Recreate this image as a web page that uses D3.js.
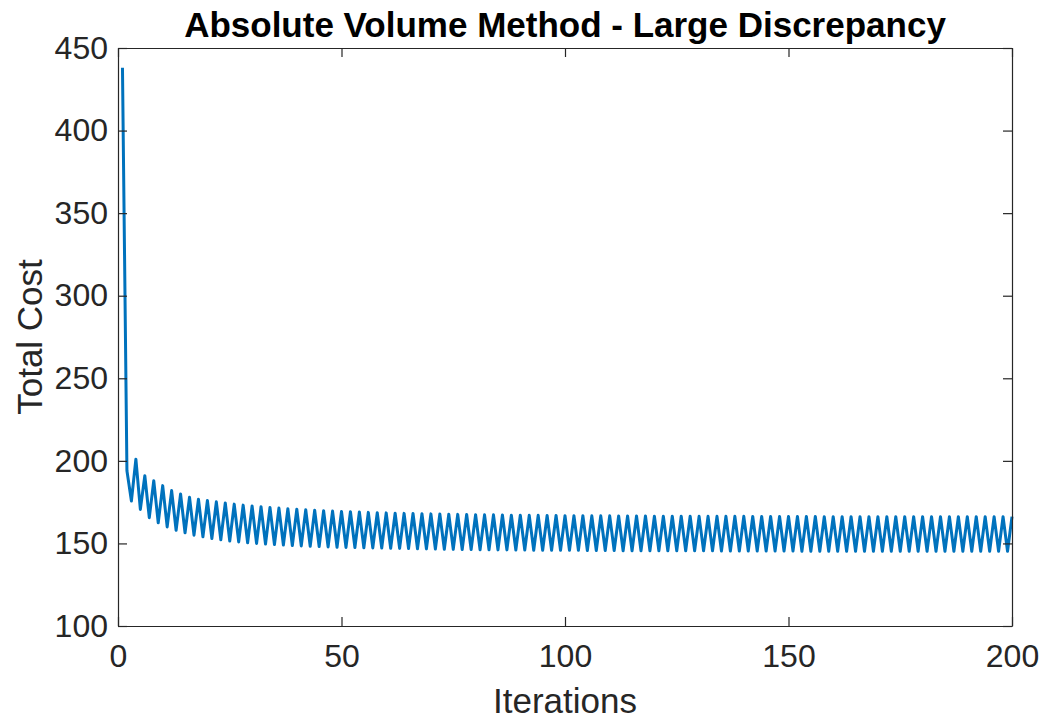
<!DOCTYPE html>
<html>
<head>
<meta charset="utf-8">
<script src="https://cdn.jsdelivr.net/npm/d3@7"></script>
<style>
  body { margin: 0; background: #fff; }
  text { font-family: "Liberation Sans", Arial, sans-serif; }
</style>
</head>
<body>
<div id="chart"></div>
<script>
  // data
  var titleText = "Absolute Volume Method - Large Discrepancy";
  var xLabel = "Iterations";
  var yLabel = "Total Cost";
  var xTicks = [0, 50, 100, 150, 200];
  var yTicks = [100, 150, 200, 250, 300, 350, 400, 450];

  // total cost per iteration (1..200)
  var totalCost = [
      438, 194, 175.7, 201, 170.6, 191, 165.6, 188, 162.5, 185,
      160, 182, 158, 180, 156.4, 178, 155, 176.8, 154, 176,
      153, 175.2, 152.2, 174.5, 151.5, 173.8, 150.9, 173.2, 150.4, 172.7,
      150, 172.2, 149.6, 171.8, 149.3, 171.4, 149, 171, 148.7, 170.7,
      148.5, 170.4, 148.3, 170.1, 148.1, 169.8, 147.9, 169.6, 147.7, 169.4,
      147.6, 169.2, 147.5, 169, 147.4, 168.8, 147.3, 168.6, 147.2, 168.5,
      147.1, 168.3, 147, 168.2, 146.9, 168.1, 146.8, 168, 146.7, 167.9,
      146.6, 167.8, 146.5, 167.7, 146.4, 167.6, 146.3, 167.5, 146.3, 167.4,
      146.2, 167.3, 146.2, 167.3, 146.1, 167.2, 146.1, 167.1, 146, 167.1,
      146, 167, 145.9, 167, 145.9, 166.9, 145.9, 166.9, 145.8, 166.8,
      145.8, 166.8, 145.8, 166.8, 145.7, 166.7, 145.7, 166.7, 145.7, 166.7,
      145.7, 166.6, 145.6, 166.6, 145.6, 166.6, 145.6, 166.6, 145.6, 166.5,
      145.6, 166.5, 145.5, 166.5, 145.5, 166.5, 145.5, 166.5, 145.5, 166.4,
      145.5, 166.4, 145.5, 166.4, 145.4, 166.4, 145.4, 166.4, 145.4, 166.4,
      145.4, 166.3, 145.4, 166.3, 145.4, 166.3, 145.4, 166.3, 145.4, 166.3,
      145.4, 166.3, 145.3, 166.3, 145.3, 166.3, 145.3, 166.2, 145.3, 166.2,
      145.3, 166.2, 145.3, 166.2, 145.3, 166.2, 145.3, 166.2, 145.3, 166.2,
      145.3, 166.2, 145.3, 166.2, 145.3, 166.2, 145.3, 166.2, 145.3, 166.2,
      145.3, 166.2, 145.3, 166.2, 145.3, 166.2, 145.3, 166.2, 145.3, 166.2,
      145.3, 166.2, 145.3, 166.2, 145.3, 166.2, 145.3, 166.2, 145.3, 166.2
  ];
  var iterations = totalCost.map(function (d, i) { return i + 1; });

  var margin = { top: 48, right: 32, bottom: 97, left: 118 },
      width = 1044 - margin.left - margin.right,
      height = 723 - margin.top - margin.bottom;

  var axisColor = "#262626";

  var svg = d3.select("#chart")
      .append("svg")
      .attr("width", 1044)
      .attr("height", 723)
      .append("g")
      .attr("transform", "translate(" + margin.left + "," + margin.top + ")");

  var x = d3.scaleLinear().domain([0, 200]).range([0, width]);
  var y = d3.scaleLinear().domain([100, 450]).range([height, 0]);

  // white axes background
  svg.append("rect")
      .attr("width", width)
      .attr("height", height)
      .attr("fill", "#fff");

  // line
  var line = d3.line()
      .x(function (d, i) { return x(iterations[i]); })
      .y(function (d) { return y(d); });

  svg.append("path")
      .datum(totalCost)
      .attr("d", line)
      .attr("fill", "none")
      .attr("stroke", "#0072BD")
      .attr("stroke-width", 3)
      .attr("stroke-linejoin", "round");

  // axes (ticks inward, box on)
  var tickLen = 9;
  var xAxis = svg.append("g")
      .attr("transform", "translate(0," + height + ")")
      .call(d3.axisBottom(x).tickValues(xTicks).tickSizeInner(-tickLen).tickSizeOuter(0).tickPadding(18));
  var yAxis = svg.append("g")
      .call(d3.axisLeft(y).tickValues(yTicks).tickSizeInner(-tickLen).tickSizeOuter(0).tickPadding(10));
  var xTop = svg.append("g")
      .call(d3.axisTop(x).tickValues(xTicks).tickSizeInner(-tickLen).tickSizeOuter(0).tickFormat(""));
  var yRight = svg.append("g")
      .attr("transform", "translate(" + width + ",0)")
      .call(d3.axisRight(y).tickValues(yTicks).tickSizeInner(-tickLen).tickSizeOuter(0).tickFormat(""));

  [xAxis, yAxis, xTop, yRight].forEach(function (g) {
      g.select(".domain").attr("stroke", axisColor).attr("stroke-width", 1.2);
      g.selectAll(".tick line").attr("stroke", axisColor).attr("stroke-width", 1.2);
      g.selectAll(".tick text")
          .attr("fill", axisColor)
          .style("font-size", "32px");
  });

  // title
  svg.append("text")
      .attr("x", width / 2)
      .attr("y", -11)
      .attr("text-anchor", "middle")
      .style("font-size", "35px")
      .style("font-weight", "bold")
      .attr("fill", "#000")
      .text(titleText);

  // axis labels
  svg.append("text")
      .attr("x", width / 2)
      .attr("y", height + 87)
      .attr("text-anchor", "middle")
      .style("font-size", "35px")
      .attr("fill", axisColor)
      .text(xLabel);

  svg.append("text")
      .attr("transform", "translate(-76," + (height / 2) + ") rotate(-90)")
      .attr("text-anchor", "middle")
      .style("font-size", "35px")
      .attr("fill", axisColor)
      .text(yLabel);
</script>
</body>
</html>
